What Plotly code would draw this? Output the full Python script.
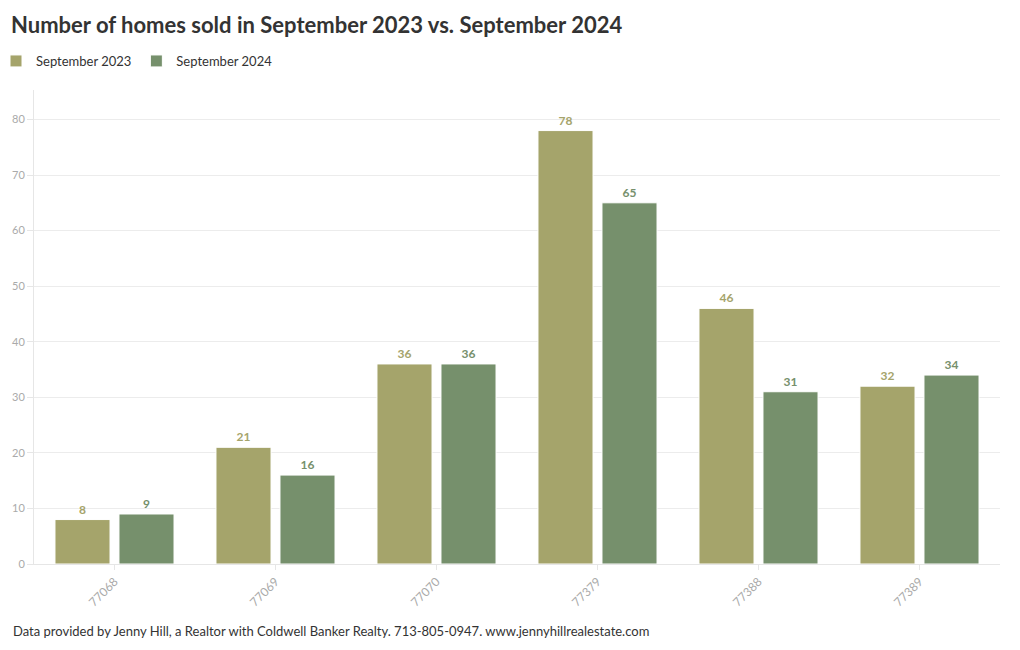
import plotly.graph_objects as go

zip_codes = ["77068", "77069", "77070", "77379", "77388", "77389"]
sold_2023 = [8, 21, 36, 78, 46, 32]
sold_2024 = [9, 16, 36, 65, 31, 34]
series_names = ["September 2023", "September 2024"]
colors = ["#a5a46b", "#76906c"]

FONT = "Lato, 'Source Sans Pro', sans-serif"

# page body has an 8px default margin; figure is sized to fit the 1020x650 window
W, H = 1012, 642
ML, MR, MT, MB = 26, 20, 82, 86
PW = W - ML - MR
PH = H - MT - MB

fig = go.Figure()
for name, vals, col in zip(series_names, [sold_2023, sold_2024], colors):
    fig.add_trace(go.Bar(
        x=zip_codes, y=vals, name=name,
        marker=dict(color=col, line=dict(color="white", width=1)),
        text=[str(v) for v in vals], textposition="outside",
        textfont=dict(color=col, size=12, family=FONT, weight="bold"),
        cliponaxis=False,
    ))

fig.update_layout(
    width=W, height=H,
    paper_bgcolor="white", plot_bgcolor="white",
    font=dict(family=FONT, color="#333"),
    margin=dict(l=ML, r=MR, t=MT, b=MB, autoexpand=False),
    bargap=0.205, bargroupgap=0.14,
    title=dict(text="<b>Number of homes sold in September 2023 vs. September 2024</b>",
               x=3 / W, xanchor="left", y=1 - 17 / H, yanchor="middle",
               font=dict(size=22, color="#333", family=FONT)),
    legend=dict(orientation="h", x=(-12 - ML) / PW, xanchor="left",
                y=(H - MB - 53) / PH, yanchor="middle",
                font=dict(size=13, color="#333"),
                traceorder="normal"),
    showlegend=True,
    annotations=[dict(
        text="Data provided by Jenny Hill, a Realtor with Coldwell Banker Realty. 713-805-0947. www.jennyhillrealestate.com",
        xref="paper", yref="paper", x=(3 - ML) / PW, y=-(623 - (H - MB)) / PH,
        xanchor="left", yanchor="middle",
        showarrow=False, font=dict(size=13, color="#333", family=FONT))],
)
fig.update_yaxes(range=[0, 85.3], dtick=10, showgrid=True, gridcolor="#ececec",
                 zeroline=False, showline=True, linecolor="#e6e6e6",
                 ticks="outside", ticklen=6, tickcolor="#e6e6e6",
                 tickfont=dict(size=11, color="#aaaaaa"))
fig.update_xaxes(type="category", showline=True, linecolor="#e6e6e6",
                 ticks="outside", ticklen=5, tickcolor="#e6e6e6",
                 tickangle=-45, tickfont=dict(size=12, color="#aaaaaa"))

fig.write_html("out.html")
